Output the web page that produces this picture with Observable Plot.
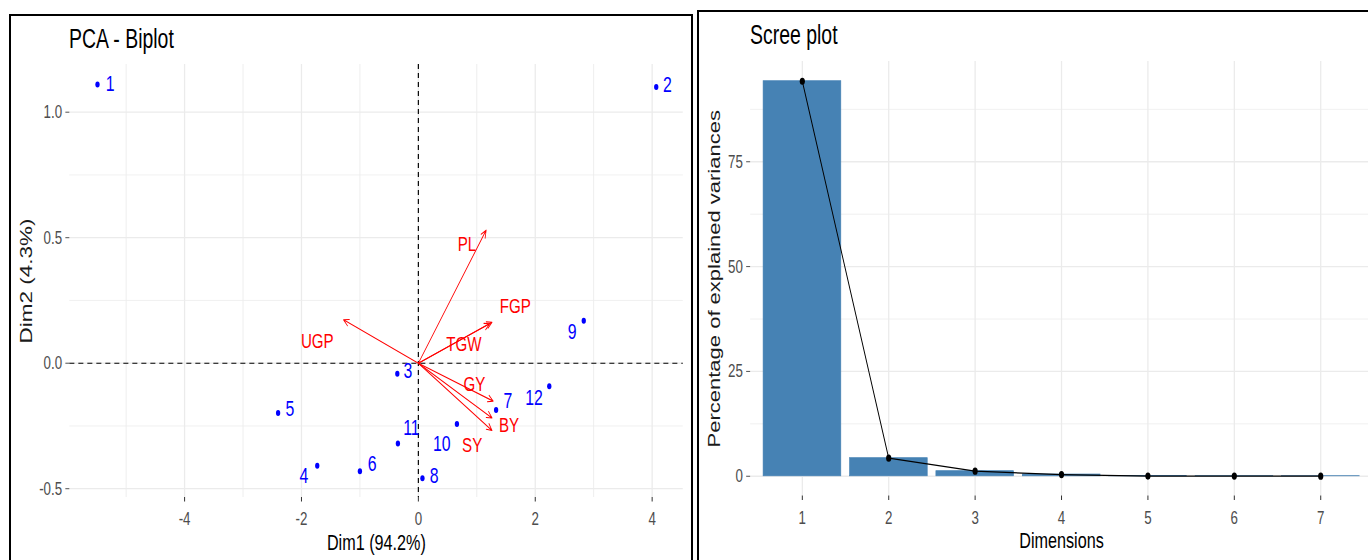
<!DOCTYPE html>
<html><head><meta charset="utf-8">
<script src="https://cdn.jsdelivr.net/npm/d3@7"></script>
<script src="https://cdn.jsdelivr.net/npm/@observablehq/plot@0.6"></script>
<style>
html,body{margin:0;padding:0;background:#fff;overflow:hidden;width:1368px;height:560px;position:relative;}
.frame{position:absolute;border:2px solid #000;box-sizing:border-box;}
.squeeze{position:absolute;transform:scaleX(0.72);transform-origin:0 0;}
.squeeze svg{max-width:none !important;display:block;}
.title{font-family:"Liberation Sans",Arial,sans-serif;font-size:27px;line-height:26px;color:#000;white-space:nowrap;}
</style></head><body>
<div class="frame" style="left:9px;top:14px;width:684px;height:620px"></div>
<div class="frame" style="left:697px;top:10px;width:720px;height:620px"></div>
<div class="squeeze title" style="left:69px;top:26px">PCA - Biplot</div>
<div class="squeeze title" style="left:750px;top:22px">Scree plot</div>
<div id="p1" class="squeeze" style="left:11px;top:56px;width:944px;height:504px"></div>
<div id="p2" class="squeeze" style="left:699px;top:56px;width:940px;height:504px"></div>
<script>
// ---------- data: PCA individuals ----------
const individuals = ["1","2","3","4","5","6","7","8","9","10","11","12"];
const indDim1 = [-5.49, 4.07, -0.36, -1.73, -2.40, -1.00, 1.33, 0.07, 2.83, 0.66, -0.35, 2.24];
const indDim2 = [1.11, 1.10, -0.042, -0.409, -0.198, -0.43, -0.186, -0.458, 0.169, -0.242, -0.32, -0.092];
// label anchor positions (ggrepel placement)
const indLabelDim1 = [-5.275, 4.26, -0.18, -1.96, -2.20, -0.79, 1.53, 0.27, 2.63, 0.40, -0.12, 1.98];
const indLabelDim2 = [1.112, 1.110, -0.029, -0.450, -0.184, -0.403, -0.150, -0.450, 0.126, -0.321, -0.256, -0.140];

// ---------- data: PCA variables (arrows) ----------
const variables = ["PL", "FGP", "UGP", "TGW", "GY", "BY", "SY"];
const varDim1 = [1.16, 1.26, -1.28, 1.22, 1.28, 1.26, 1.26];
const varDim2 = [0.53, 0.163, 0.173, 0.157, -0.151, -0.218, -0.268];
const varLabelDim1 = [0.83, 1.66, -1.73, 0.78, 0.96, 1.55, 0.92];
const varLabelDim2 = [0.475, 0.227, 0.087, 0.077, -0.085, -0.246, -0.328];

// ---------- data: scree ----------
const dimensions = [1, 2, 3, 4, 5, 6, 7];
const explainedVariance = [94.2, 4.3, 1.2, 0.4, 0.05, 0.03, 0.02];

// ---------- ticks ----------
const biplotXTicks = [-4, -2, 0, 2, 4];
const biplotXMinor = [-5, -3, -1, 1, 3];
const biplotYTicks = [-0.5, 0, 0.5, 1];
const biplotYMinor = [-0.25, 0.25, 0.75];
const screeYTicks = [0, 25, 50, 75];
const screeYMinor = [12.5, 37.5, 62.5, 87.5];

const FONT = '"Liberation Sans", Arial, sans-serif';
const GRID = "#ebebeb";
const TICKTEXT = "#4d4d4d";

const indData = individuals.map((name, i) => ({name, x: indDim1[i], y: indDim2[i], lx: indLabelDim1[i], ly: indLabelDim2[i]}));
const varData = variables.map((name, i) => ({name, x: varDim1[i], y: varDim2[i], lx: varLabelDim1[i], ly: varLabelDim2[i]}));
const screeData = dimensions.map((d, i) => ({dim: d, pct: explainedVariance[i]}));
const origin = 0;

const biplot = Plot.plot({
  width: 944, height: 504,
  marginLeft: 81, marginRight: 11, marginTop: 8, marginBottom: 63,
  style: {fontFamily: FONT, background: "transparent", overflow: "visible"},
  x: {domain: [-5.966, 4.53]},
  y: {domain: [-0.535, 1.19]},
  marks: [
    Plot.gridX(biplotXMinor, {stroke: GRID, strokeOpacity: 1, strokeWidth: 1.2}),
    Plot.gridX(biplotXTicks, {stroke: GRID, strokeOpacity: 1, strokeWidth: 1.8}),
    Plot.gridY(biplotYMinor, {stroke: GRID, strokeOpacity: 1, strokeWidth: 0.9}),
    Plot.gridY(biplotYTicks, {stroke: GRID, strokeOpacity: 1, strokeWidth: 1.3}),
    Plot.ruleX([origin], {stroke: "#000", strokeWidth: 1.6, strokeDasharray: "5,4"}),
    Plot.ruleY([origin], {stroke: "#000", strokeWidth: 1.1, strokeDasharray: "7,5.5"}),
    Plot.arrow(varData, {x1: () => origin, y1: () => origin, x2: "x", y2: "y", stroke: "#ff0000", strokeWidth: 1.1, headLength: 11, headAngle: 50}),
    Plot.dot(indData, {x: "x", y: "y", r: 3, fill: "#0000ff", stroke: null}),
    Plot.text(indData, {x: "lx", y: "ly", text: "name", fill: "#0000ff", fontSize: 22}),
    Plot.text(varData, {x: "lx", y: "ly", text: "name", fill: "#ff0000", fontSize: 21}),
    Plot.axisX(biplotXTicks, {tickSize: 4.5, tickPadding: 10, fontSize: 18.5, stroke: "#333", strokeWidth: 1.4, fill: TICKTEXT, tickFormat: d => String(d), label: null}),
    Plot.axisY(biplotYTicks, {tickSize: 5.5, tickPadding: 5, fontSize: 18.5, stroke: "#333", fill: TICKTEXT, tickFormat: d => d.toFixed(1), label: null}),
    Plot.text(["Dim1 (94.2%)"], {frameAnchor: "bottom", dy: 52, fontSize: 22.5, fill: "#000"}),
    Plot.text(["Dim2 (4.3%)"], {frameAnchor: "left", textAnchor: "middle", dx: -59.5, rotate: -90, fontSize: 22.5, fill: "#1a1a1a"})
  ]
});
document.getElementById("p1").appendChild(biplot);

const scree = Plot.plot({
  width: 940, height: 504,
  marginLeft: 71, marginRight: 5, marginTop: 5, marginBottom: 64.5,
  style: {fontFamily: FONT, background: "transparent", overflow: "visible"},
  x: {type: "band", domain: dimensions, paddingInner: 0.1, paddingOuter: 0.15},
  y: {domain: [-4.71, 98.91]},
  marks: [
    Plot.gridY(screeYMinor, {stroke: GRID, strokeOpacity: 1, strokeWidth: 0.9}),
    Plot.gridY(screeYTicks, {stroke: GRID, strokeOpacity: 1, strokeWidth: 1.3}),
    Plot.gridX(dimensions, {stroke: GRID, strokeOpacity: 1, strokeWidth: 1.8}),
    Plot.barY(screeData, {x: "dim", y: "pct", fill: "#4682b4", stroke: "#4682b4", strokeWidth: 0.8}),
    Plot.line(screeData, {x: "dim", y: "pct", stroke: "#000", strokeWidth: 1.3}),
    Plot.dot(screeData, {x: "dim", y: "pct", r: 3.6, fill: "#000", stroke: null}),
    Plot.axisX(dimensions, {tickSize: 4.5, tickPadding: 10, fontSize: 18.5, stroke: "#333", strokeWidth: 1.4, fill: TICKTEXT, label: null}),
    Plot.axisY(screeYTicks, {tickSize: 5.5, tickPadding: 5, fontSize: 18.5, stroke: "#333", fill: TICKTEXT, label: null}),
    Plot.text(["Dimensions"], {frameAnchor: "bottom", dy: 52, fontSize: 22.5, fill: "#000"}),
    Plot.text(["Percentage of explained variances"], {frameAnchor: "left", textAnchor: "middle", dx: -50, rotate: -90, fontSize: 22, fill: "#1a1a1a"})
  ]
});
document.getElementById("p2").appendChild(scree);
</script>
</body></html>
